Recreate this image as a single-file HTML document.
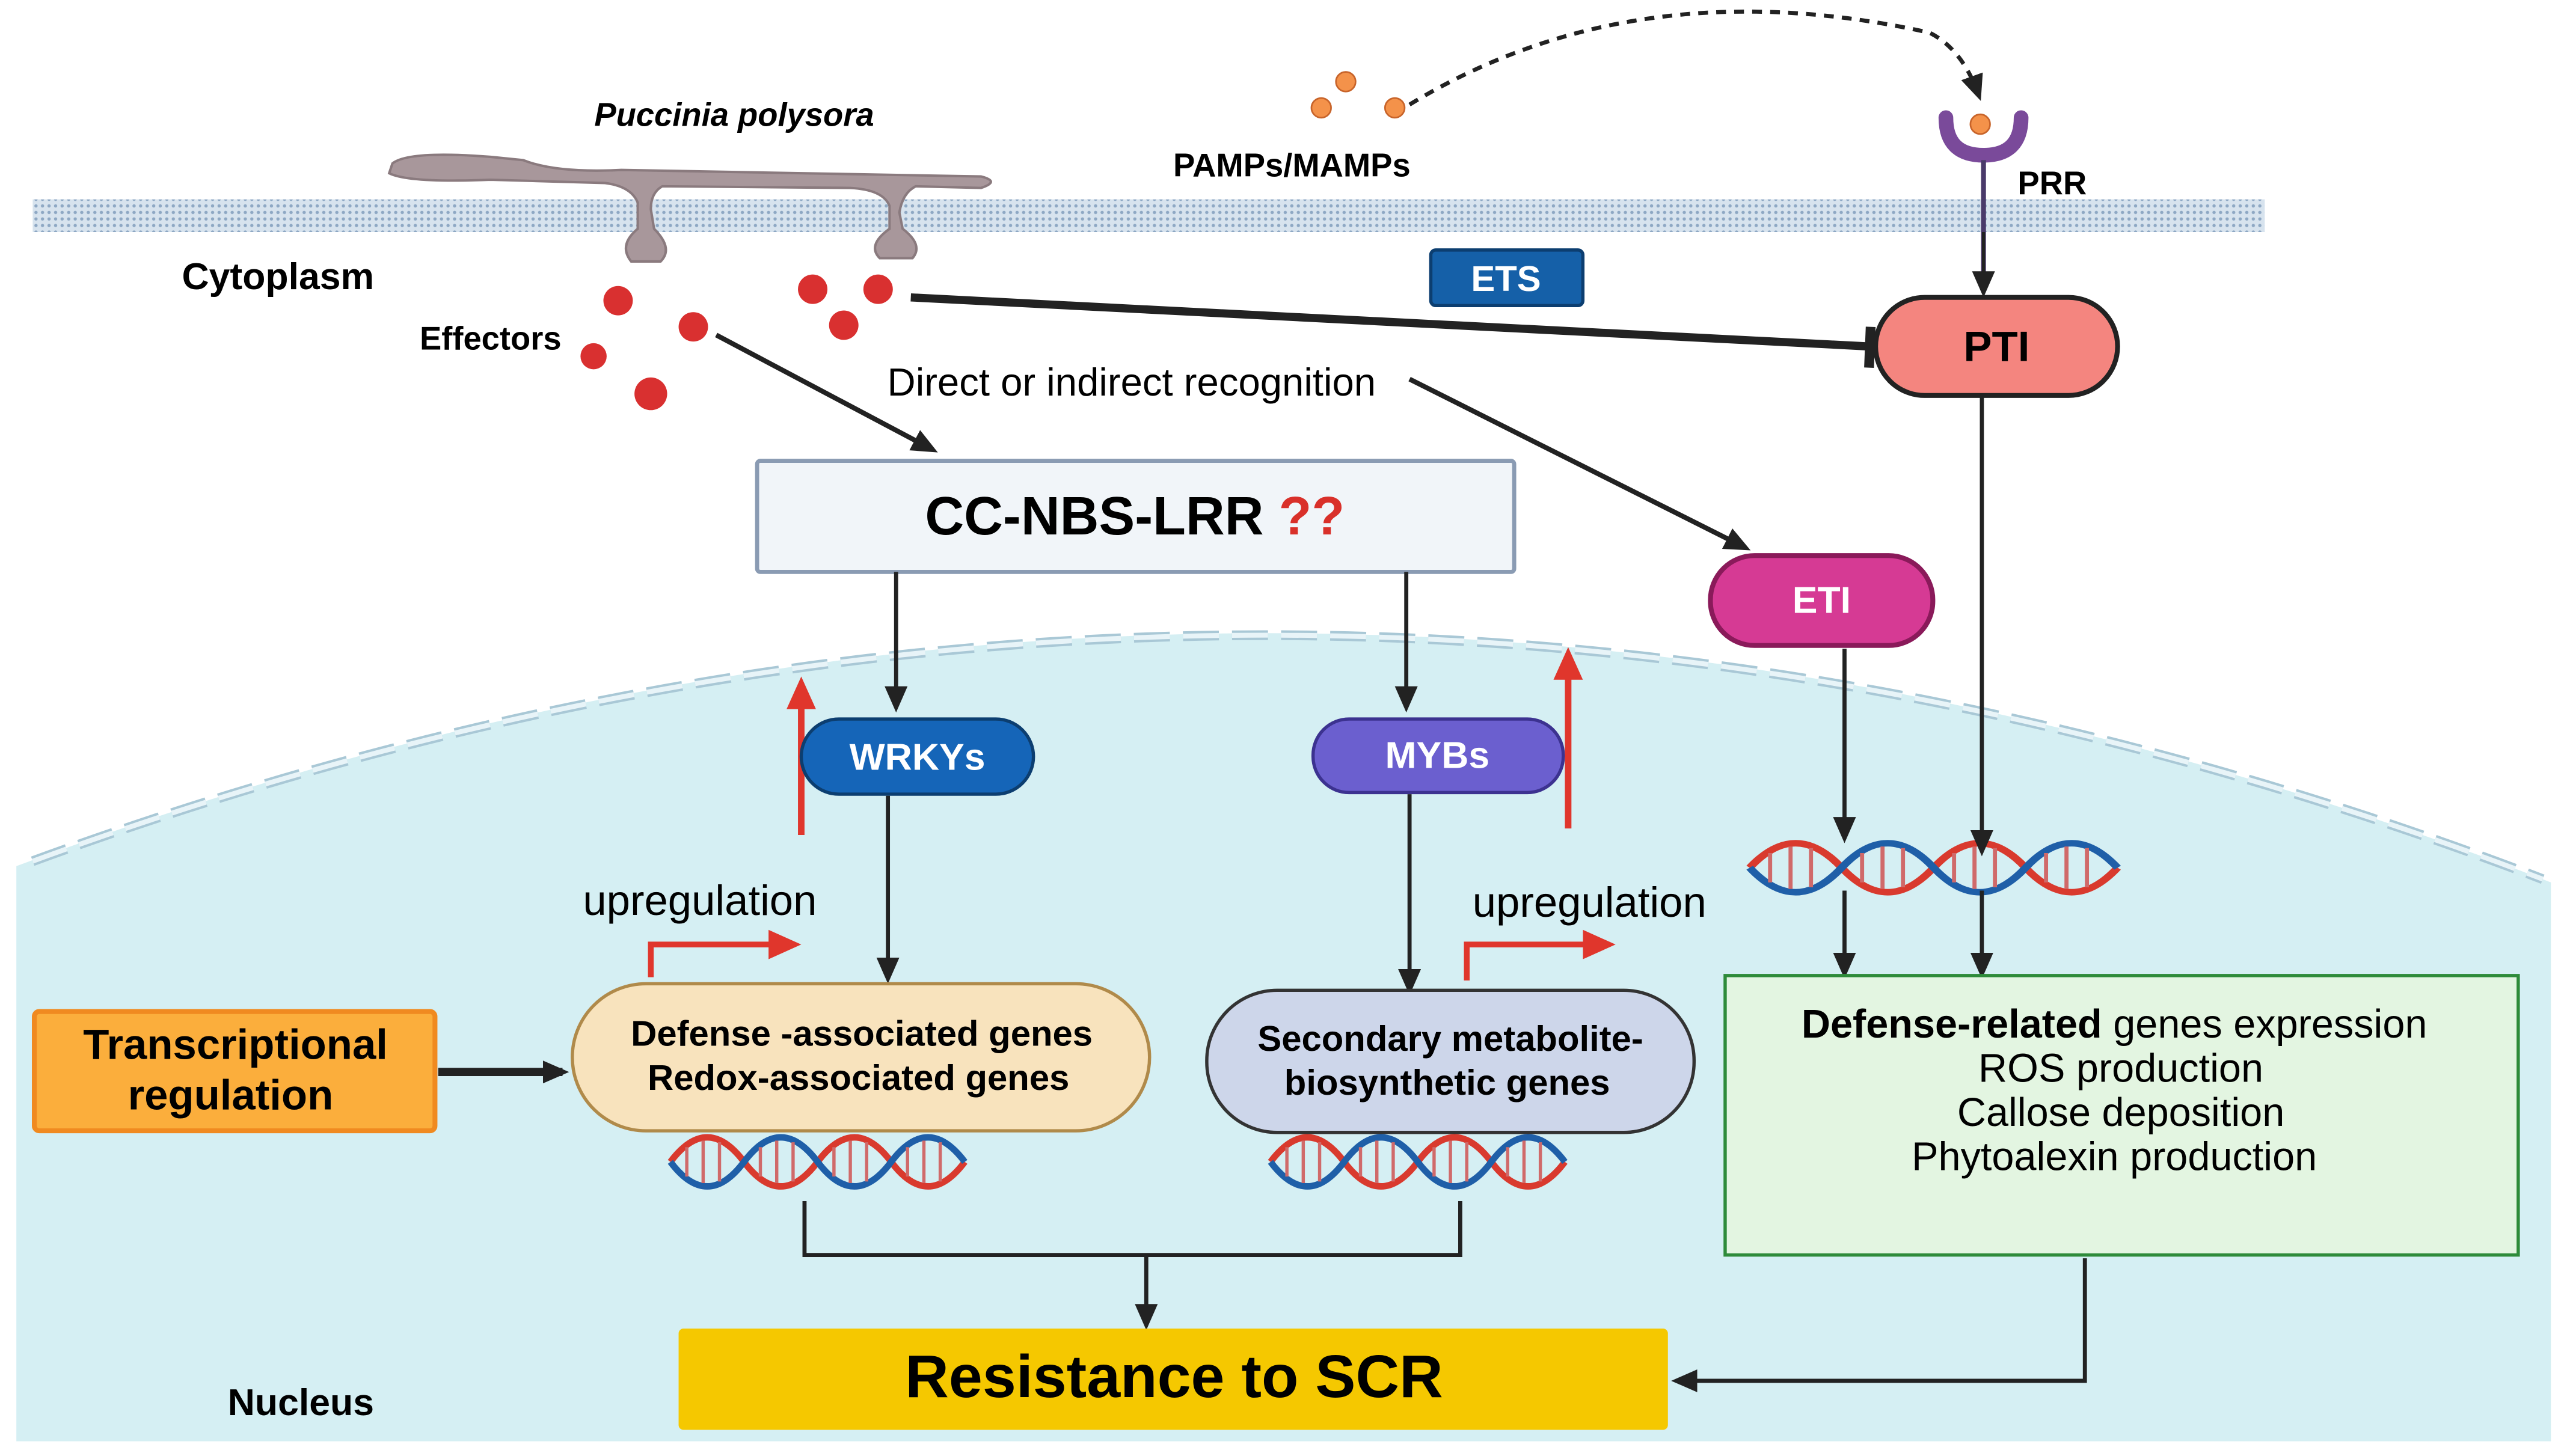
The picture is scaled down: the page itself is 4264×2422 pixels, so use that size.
<!DOCTYPE html>
<html><head><meta charset="utf-8"><style>html,body{margin:0;padding:0;background:#fff}svg{display:block}text{font-family:"Liberation Sans",sans-serif}</style></head><body>
<svg width="4264" height="2422" viewBox="0 0 1568 891" preserveAspectRatio="none" xmlns="http://www.w3.org/2000/svg">
<defs>
<marker id="ah" markerWidth="16" markerHeight="14" refX="12" refY="7" orient="auto" markerUnits="userSpaceOnUse"><path d="M0,0 L16,7 L0,14 z" fill="#222"/></marker>
<marker id="ahr" markerWidth="20" markerHeight="18" refX="14" refY="9" orient="auto" markerUnits="userSpaceOnUse"><path d="M0,0 L20,9 L0,18 z" fill="#e0362c"/></marker>
<pattern id="mem" width="4" height="4" patternUnits="userSpaceOnUse"><rect width="4" height="4" fill="#d7e3ee"/><circle cx="2" cy="2" r="1" fill="#8ea8c4"/></pattern>
<g id="dna">
<path d="M0,0 C15,-20 30,-20 45,0 S75,20 90,0 S120,-20 135,0 S165,20 180,0" fill="none" stroke="#d93a2e" stroke-width="4"/>
<path d="M0,0 C15,20 30,20 45,0 S75,-20 90,0 S120,20 135,0 S165,-20 180,0" fill="none" stroke="#1f5fa8" stroke-width="4"/>
<g stroke="#d06a6a" stroke-width="2"><line x1="10" y1="-9" x2="10" y2="9"/><line x1="20" y1="-13" x2="20" y2="13"/><line x1="30" y1="-12" x2="30" y2="12"/><line x1="55" y1="-9" x2="55" y2="9"/><line x1="65" y1="-13" x2="65" y2="13"/><line x1="75" y1="-12" x2="75" y2="12"/><line x1="100" y1="-9" x2="100" y2="9"/><line x1="110" y1="-13" x2="110" y2="13"/><line x1="120" y1="-12" x2="120" y2="12"/><line x1="145" y1="-9" x2="145" y2="9"/><line x1="155" y1="-13" x2="155" y2="13"/><line x1="165" y1="-12" x2="165" y2="12"/></g>
</g>
</defs>
<rect width="1568" height="891" fill="#fff"/>
<path d="M10,530 Q790,240 1560,540 L1560,882 L10,882 Z" fill="#d5eff3"/>
<path d="M20,527 Q790,245 1555,538" fill="none" stroke="#a9c8d6" stroke-width="6" stroke-dasharray="22,8"/>
<path d="M20,527 Q790,245 1555,538" fill="none" stroke="#e8f4f8" stroke-width="3" stroke-dasharray="22,8"/>
<rect x="20" y="122" width="1365" height="20" fill="url(#mem)"/>
<path d="M240,100 Q250,92 300,96 L320,98 Q340,106 380,104 L600,108 Q612,111 600,115 L560,114 Q552,118 550,130 L552,140 Q565,150 558,158 L538,158 Q530,150 544,140 L544,126 Q540,116 520,115 L405,114 Q398,118 398,128 L400,140 Q412,152 404,160 L386,160 Q378,150 390,140 L390,124 Q386,114 370,112 L300,110 Q250,112 238,106 Z" fill="#a8979b" stroke="#8a7a7e" stroke-width="1.5"/>
<text x="449" y="77" font-size="20" font-weight="bold" font-style="italic" text-anchor="middle">Puccinia polysora</text>
<circle cx="823" cy="50" r="6" fill="#f4924a" stroke="#c8642a"/>
<circle cx="808" cy="66" r="6" fill="#f4924a" stroke="#c8642a"/>
<circle cx="853" cy="66" r="6" fill="#f4924a" stroke="#c8642a"/>
<path d="M862,64 Q1000,-20 1180,20 Q1200,30 1210,58" fill="none" stroke="#222" stroke-width="2.5" stroke-dasharray="6,5" marker-end="url(#ah)"/>
<text x="790" y="108" font-size="20" font-weight="bold" text-anchor="middle">PAMPs/MAMPs</text>
<path d="M1190,72 Q1190,95 1213,95 Q1236,95 1236,72" fill="none" stroke="#7a4a9a" stroke-width="9" stroke-linecap="round"/>
<circle cx="1211" cy="76" r="6" fill="#f4924a" stroke="#c8642a"/>
<line x1="1213" y1="98" x2="1213" y2="168" stroke="#4a3a6a" stroke-width="3"/>
<line x1="1213" y1="142" x2="1213" y2="178" stroke="#222" stroke-width="2" marker-end="url(#ah)"/>
<text x="1255" y="119" font-size="20" font-weight="bold" text-anchor="middle">PRR</text>
<text x="170" y="177" font-size="23" font-weight="bold" text-anchor="middle">Cytoplasm</text>
<text x="300" y="214" font-size="20" font-weight="bold" text-anchor="middle">Effectors</text>
<g fill="#d93030"><circle cx="378" cy="184" r="9"/><circle cx="424" cy="200" r="9"/><circle cx="363" cy="218" r="8"/><circle cx="398" cy="241" r="10"/><circle cx="497" cy="177" r="9"/><circle cx="537" cy="177" r="9"/><circle cx="516" cy="199" r="9"/></g>
<rect x="875" y="153" width="93" height="34" rx="3" fill="#1560a8" stroke="#0c3e70" stroke-width="2"/>
<text x="921" y="178" font-size="22" font-weight="bold" fill="#fff" text-anchor="middle">ETS</text>
<line x1="557" y1="182" x2="1143" y2="212" stroke="#222" stroke-width="5"/>
<line x1="1144" y1="200" x2="1143" y2="225" stroke="#222" stroke-width="6"/>
<rect x="1147" y="182" width="148" height="60" rx="30" fill="#f4857f" stroke="#222" stroke-width="3"/>
<text x="1221" y="221" font-size="26" font-weight="bold" text-anchor="middle">PTI</text>
<line x1="438" y1="205" x2="570" y2="275" stroke="#222" stroke-width="3" marker-end="url(#ah)"/>
<text x="692" y="242" font-size="24" text-anchor="middle">Direct or indirect recognition</text>
<line x1="862" y1="232" x2="1067" y2="335" stroke="#222" stroke-width="3" marker-end="url(#ah)"/>
<rect x="463" y="282" width="463" height="68" rx="2" fill="#f1f5f9" stroke="#8a9bb3" stroke-width="2.5"/>
<text x="694" y="327" font-size="33" font-weight="bold" text-anchor="middle">CC-NBS-LRR <tspan fill="#d9302a">??</tspan></text>
<rect x="1046" y="340" width="136" height="55" rx="27" fill="#d63a94" stroke="#8a1a5a" stroke-width="3"/>
<text x="1114" y="375" font-size="23" font-weight="bold" fill="#fff" text-anchor="middle">ETI</text>
<line x1="548" y1="350" x2="548" y2="432" stroke="#222" stroke-width="2.5" marker-end="url(#ah)"/>
<line x1="860" y1="350" x2="860" y2="432" stroke="#222" stroke-width="2.5" marker-end="url(#ah)"/>
<line x1="490" y1="511" x2="490" y2="420" stroke="#e0362c" stroke-width="4" marker-end="url(#ahr)"/>
<line x1="959" y1="507" x2="959" y2="402" stroke="#e0362c" stroke-width="4" marker-end="url(#ahr)"/>
<rect x="490" y="440" width="142" height="46" rx="23" fill="#1565b8" stroke="#0c3e70" stroke-width="2"/>
<text x="561" y="471" font-size="23" font-weight="bold" fill="#fff" text-anchor="middle">WRKYs</text>
<rect x="803" y="440" width="153" height="45" rx="22" fill="#6b5fcf" stroke="#3c3290" stroke-width="2"/>
<text x="879" y="470" font-size="23" font-weight="bold" fill="#fff" text-anchor="middle">MYBs</text>
<line x1="543" y1="487" x2="543" y2="598" stroke="#222" stroke-width="2.5" marker-end="url(#ah)"/>
<line x1="862" y1="486" x2="862" y2="605" stroke="#222" stroke-width="2.5" marker-end="url(#ah)"/>
<text x="428" y="560" font-size="26" text-anchor="middle">upregulation</text>
<text x="972" y="561" font-size="26" text-anchor="middle">upregulation</text>
<path d="M398,598 L398,578 L484,578" fill="none" stroke="#e0362c" stroke-width="3.5" marker-end="url(#ahr)"/>
<path d="M897,600 L897,578 L982,578" fill="none" stroke="#e0362c" stroke-width="3.5" marker-end="url(#ahr)"/>
<rect x="350" y="602" width="353" height="90" rx="45" fill="#f8e3bd" stroke="#b08a4a" stroke-width="2"/>
<text x="527" y="640" font-size="22" font-weight="bold" text-anchor="middle">Defense -associated  genes</text>
<text x="525" y="667" font-size="22" font-weight="bold" text-anchor="middle">Redox-associated genes</text>
<rect x="738" y="606" width="298" height="87" rx="43" fill="#cdd6ea" stroke="#333" stroke-width="2"/>
<text x="887" y="643" font-size="22" font-weight="bold" text-anchor="middle">Secondary metabolite-</text>
<text x="885" y="670" font-size="22" font-weight="bold" text-anchor="middle">biosynthetic genes</text>
<rect x="21" y="619" width="245" height="73" rx="3" fill="#fbae3c" stroke="#f08a20" stroke-width="3"/>
<text x="144" y="648" font-size="26" font-weight="bold" text-anchor="middle">Transcriptional</text>
<text x="141" y="679" font-size="26" font-weight="bold" text-anchor="middle">regulation</text>
<line x1="268" y1="656" x2="344" y2="656" stroke="#222" stroke-width="5" marker-end="url(#ah)"/>
<use href="#dna" transform="translate(410,711)"/>
<use href="#dna" transform="translate(777,711)"/>
<use href="#dna" transform="translate(1070,531) scale(1.25,1)"/>
<path d="M492,735 L492,768 L893,768 L893,735" fill="none" stroke="#222" stroke-width="2.5"/>
<line x1="701" y1="768" x2="701" y2="810" stroke="#222" stroke-width="2.5" marker-end="url(#ah)"/>
<line x1="1128" y1="397" x2="1128" y2="512" stroke="#222" stroke-width="2.5" marker-end="url(#ah)"/>
<line x1="1212" y1="242" x2="1212" y2="520" stroke="#222" stroke-width="2.5" marker-end="url(#ah)"/>
<line x1="1128" y1="545" x2="1128" y2="595" stroke="#222" stroke-width="2.5" marker-end="url(#ah)"/>
<line x1="1212" y1="545" x2="1212" y2="595" stroke="#222" stroke-width="2.5" marker-end="url(#ah)"/>
<rect x="1055" y="597" width="485" height="171" fill="#e3f5e1" stroke="#2e8b3a" stroke-width="2"/>
<text x="1293" y="635" font-size="24.5" text-anchor="middle"><tspan font-weight="bold">Defense-related</tspan> genes expression</text>
<text x="1297" y="662" font-size="24.5" text-anchor="middle">ROS production</text>
<text x="1297" y="689" font-size="24.5" text-anchor="middle">Callose deposition</text>
<text x="1293" y="716" font-size="24.5" text-anchor="middle">Phytoalexin production</text>
<path d="M1275,770 L1275,845 L1026,845" fill="none" stroke="#222" stroke-width="2.5" marker-end="url(#ah)"/>
<rect x="415" y="813" width="605" height="62" rx="3" fill="#f5c800"/>
<text x="718" y="855" font-size="37" font-weight="bold" text-anchor="middle">Resistance to SCR</text>
<text x="184" y="866" font-size="23" font-weight="bold" text-anchor="middle">Nucleus</text>
</svg>
</body></html>
